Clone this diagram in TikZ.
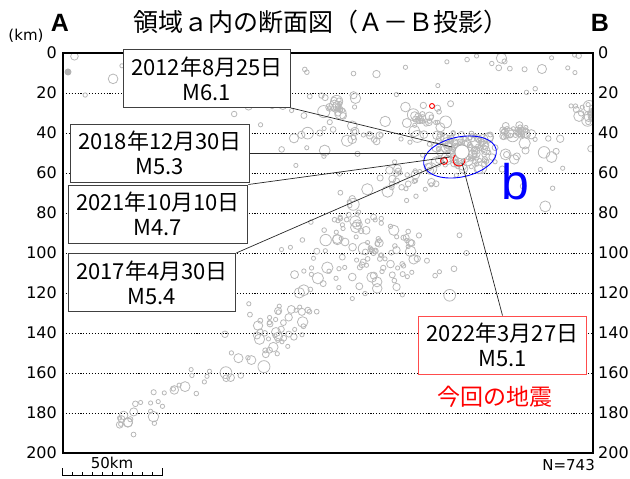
\documentclass[tikz,border=0pt]{standalone}
\usepackage{fontspec}
\setmainfont{DejaVu Sans}
\newfontfamily\lsans{Liberation Sans}
\newfontfamily\jpfont{Noto Sans CJK JP}
\usetikzlibrary{shapes.geometric}
\tikzset{
  quake/.style={draw=black!28,line width=0.8pt},
  datebox/.style={draw=black!75,fill=white,line width=1pt,align=center,inner xsep=8pt,inner ysep=2pt,
    minimum height=58pt,font=\jpfont\fontsize{22}{25}\selectfont},
  gridline/.style={dash pattern=on 1.1pt off 1.8pt,line width=0.6pt},
  leader/.style={line width=0.7pt,black!85},
  depthlabel/.style={inner sep=0pt,font=\fontsize{16}{16}\selectfont}
}
\begin{document}
\begin{tikzpicture}[x=2pt,y=-2pt]
\useasboundingbox (-31.5,-26.5) rectangle (283.5,213);
\foreach \d in {20,40,...,180}
  \draw[gridline] (0,\d) -- (265,\d);
\foreach \d in {0,20,...,200}{
  \node[depthlabel,anchor=east] at (-3,\d) {\d};
  \node[depthlabel,anchor=west] at (267.5,\d) {\d};
}
\begin{scope}
  \clip (0,0) rectangle (265,200);
  \pgfmathsetseed{743}
  \foreach \cx/\cy/\sx/\sy/\n in {137/27.5/2.5/2/18, 226.5/40/4/2/30, 262/30/2.5/2.5/20, 182/34.5/6/3/22,
      202/50/9/4/110, 173.5/63.5/8/6/30, 148.5/83.5/14/9/40, 166/102/14/9/60, 128.5/113.5/14/11/35,
      106/136/12/7/22, 240/55/15/10/18, 160/40/25/8/35, 115/45/15/12/14}{
    \foreach \i in {1,...,\n}{
      \pgfmathsetmacro\qx{\cx+\sx*(rand+rand+rand)}
      \pgfmathsetmacro\qy{\cy+\sy*(rand+rand+rand)}
      \pgfmathsetmacro\qr{2.1+4*rnd^3}
      \draw[quake] (\qx,\qy) circle[radius=\qr pt];
    }
  }
  \foreach \i in {1,...,50}{
    \pgfmathsetmacro\qx{265*rnd}
    \pgfmathsetmacro\qy{1+30*rnd^1.5}
    \pgfmathsetmacro\qr{2.1+4*rnd^3}
    \draw[quake] (\qx,\qy) circle[radius=\qr pt];
  }
  \foreach \i in {1,...,55}{
    \pgfmathsetmacro\qt{rnd}
    \pgfmathsetmacro\qx{118-92*\qt+4*(rand+rand)}
    \pgfmathsetmacro\qy{138+50*\qt+4*(rand+rand)}
    \pgfmathsetmacro\qr{2.1+4*rnd^3}
    \draw[quake] (\qx,\qy) circle[radius=\qr pt];
  }
  \fill[black!30] (2.5,9.5) circle[radius=3.5pt];
\end{scope}
\draw[red,line width=0.9pt] (184.5,26.5) circle[radius=2.5pt];
\draw[red,line width=0.9pt] (190.5,54) circle[radius=3.5pt];
\draw[red,line width=0.9pt] (198,53.5) circle[radius=6pt];
\draw[black!35,fill=white,line width=0.7pt] (199.5,49.5) circle[radius=7pt];
\draw[line width=1.5pt] (0,0) rectangle (265,200);
\node[ellipse,draw=blue,line width=0.9pt,minimum width=74pt,minimum height=40pt,rotate=12] (areab) at (198.5,52) {};
\node[text=blue,font=\lsans\fontsize{50}{50}\selectfont] (labelb) at (226,64.5) {b};
\coordinate (ev2012) at (194.5,47);
\coordinate (ev2018) at (193.5,50);
\coordinate (ev2021) at (193.5,52);
\coordinate (ev2017) at (191,54.5);
\coordinate (ev2022) at (199.5,55);
\node[datebox] (b2012) at (72,12.75) {2012年8月25日\\M6.1};
\node[datebox] (b2018) at (48.5,50) {2018年12月30日\\M5.3};
\node[datebox] (b2021) at (47.5,80.5) {2021年10月10日\\M4.7};
\node[datebox] (b2017) at (44.5,114.75) {2017年4月30日\\M5.4};
\node[datebox,draw=red!70] (b2022) at (219.75,146) {2022年3月27日\\M5.1};
\draw[leader] (b2012.south east) -- (ev2012);
\draw[leader] (b2018.east) -- (ev2018);
\draw[leader] (b2021.north east) -- (ev2021);
\draw[leader] (b2017.north east) -- (ev2017);
\draw[leader] (b2022.north) -- (ev2022);
\node[fill=white,inner xsep=14pt,text=red,font=\jpfont\fontsize{23}{23}\selectfont] (konkai) at (216,172) {今回の地震};
\node[font=\jpfont\fontsize{25}{25}\selectfont] (title) at (129,-15.5) {領域ａ内の断面図（Ａ－Ｂ投影）};
\node[font=\lsans\bfseries\fontsize{25}{25}\selectfont] (endA) at (-1.5,-15) {A};
\node[font=\lsans\bfseries\fontsize{25}{25}\selectfont] (endB) at (268.5,-15) {B};
\node[font=\fontsize{15}{15}\selectfont] (unit) at (-18.5,-8.5) {(km)};
\node[anchor=east,inner sep=0pt,font=\fontsize{15}{15}\selectfont] (count) at (266,206) {N=743};
\draw[line width=0.8pt] (-0.5,207.5) -- (-0.5,211) -- (49.5,211) -- (49.5,207.5);
\foreach \k in {5,10,...,45}
  \draw[line width=0.6pt] (\k-0.5,211) -- (\k-0.5,209.5);
\node[font=\fontsize{15}{15}\selectfont] (scale) at (24.5,205) {50km};
\end{tikzpicture}
\end{document}
